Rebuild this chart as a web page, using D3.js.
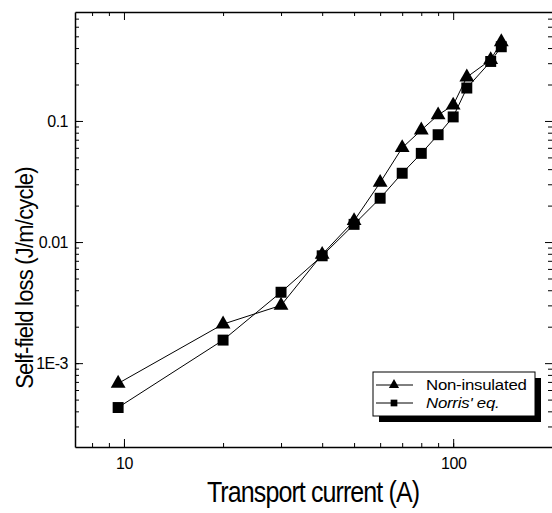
<!DOCTYPE html>
<html>
<head>
<meta charset="utf-8">
<script src="https://cdn.jsdelivr.net/npm/d3@7"></script>
<style>
  body { margin: 0; background: #fff; }
  svg { display: block; font-family: "Liberation Sans", Arial, sans-serif; }
  .axis path, .axis line { stroke: #000; }
  .axis text { font-size: 16px; fill: #000; letter-spacing: -0.5px; }
</style>
</head>
<body>
<div id="chart"></div>
<script>
// ************ data ************
const current = [9.6, 20, 30, 40, 50, 60, 70, 80, 90, 100, 110, 130, 140]
const nonInsulated = [6.8e-4, 2.1e-3, 3.0e-3, 7.9e-3, 0.015, 0.031, 0.060, 0.084, 0.112, 0.135, 0.23, 0.32, 0.45]
const norris = [4.3e-4, 1.55e-3, 3.85e-3, 7.7e-3, 0.014, 0.023, 0.037, 0.054, 0.077, 0.108, 0.187, 0.31, 0.41]

const xTickValues = [10, 100]
const xTickLabels = ["10", "100"]
const yTickValues = [1e-3, 0.01, 0.1]
const yTickLabels = ["1E-3", "0.01", "0.1"]

const seriesNames = ["Non-insulated", "Norris' eq."]

// ************ layout ************
const width = 552
const height = 513
const plot = { left: 75, right: 553, top: 12, bottom: 447 }

const x = d3.scaleLog()
  .domain([7.1, 201])
  .range([plot.left, plot.right])

const y = d3.scaleLog()
  .domain([2.03e-4, 0.794])
  .range([plot.bottom, plot.top])

// minor ticks 1..9 per decade
function minorTicks(scale) {
  const [a, b] = scale.domain()
  const out = []
  for (let k = Math.floor(Math.log10(a)); k <= Math.ceil(Math.log10(b)); k++) {
    for (let m = 1; m <= 9; m++) {
      const v = m * Math.pow(10, k)
      if (v >= a && v <= b) out.push(v)
    }
  }
  return out
}

const svg = d3.select("#chart")
  .append("svg")
  .attr("width", width)
  .attr("height", height)

// frame axes (ticks point inward)
svg.append("g")
  .attr("class", "axis")
  .attr("transform", "translate(0," + plot.bottom + ")")
  .call(d3.axisBottom(x).tickValues(minorTicks(x)).tickSize(-4).tickSizeOuter(0).tickFormat(""))
  .select(".domain").attr("stroke-width", 1.5)

svg.append("g")
  .attr("class", "axis")
  .attr("transform", "translate(0," + plot.bottom + ")")
  .call(d3.axisBottom(x).tickValues(xTickValues).tickSize(-8).tickSizeOuter(0).tickPadding(11)
    .tickFormat((d, i) => xTickLabels[i]))
  .call(g => g.select(".domain").remove())

svg.append("g")
  .attr("class", "axis")
  .attr("transform", "translate(0," + plot.top + ")")
  .call(d3.axisTop(x).tickValues(minorTicks(x)).tickSize(-4).tickSizeOuter(0).tickFormat(""))
  .call(g => g.selectAll(".tick line").filter(d => xTickValues.includes(d)).attr("y2", 8))
  .select(".domain").attr("stroke-width", 1.5)

svg.append("g")
  .attr("class", "axis")
  .attr("transform", "translate(" + plot.left + ",0)")
  .call(d3.axisLeft(y).tickValues(minorTicks(y)).tickSize(-4).tickSizeOuter(0).tickFormat(""))
  .select(".domain").attr("stroke-width", 1.5)

svg.append("g")
  .attr("class", "axis")
  .attr("transform", "translate(" + plot.left + ",0)")
  .call(d3.axisLeft(y).tickValues(yTickValues).tickSize(-8).tickSizeOuter(0).tickPadding(7)
    .tickFormat((d, i) => yTickLabels[i]))
  .call(g => g.select(".domain").remove())

svg.append("g")
  .attr("class", "axis")
  .attr("transform", "translate(" + plot.right + ",0)")
  .call(d3.axisRight(y).tickValues(minorTicks(y)).tickSize(-5).tickSizeOuter(0).tickFormat(""))
  .call(g => g.selectAll(".tick line").filter(d => yTickValues.includes(d)).attr("x2", -8))

// axis titles (the scan has tall, narrow lettering)
svg.append("text")
  .attr("transform", "translate(313,502) scale(1,1.15)")
  .attr("text-anchor", "middle")
  .style("font-size", "25px")
  .style("letter-spacing", "-0.9px")
  .text("Transport current (A)")

svg.append("text")
  .attr("transform", "translate(33,278) scale(1.12,1) rotate(-90)")
  .attr("text-anchor", "middle")
  .style("font-size", "22px")
  .style("letter-spacing", "-0.8px")
  .text("Self-field loss (J/m/cycle)")

// series
const tri = d3.symbol().type(d3.symbolTriangle).size(95)
const sq = d3.symbol().type(d3.symbolSquare).size(120)

const series = [
  { name: seriesNames[0], values: nonInsulated, symbol: tri },
  { name: seriesNames[1], values: norris, symbol: sq }
]

const line = d3.line()
  .x(d => x(d[0]))
  .y(d => y(d[1]))

series.forEach(s => {
  svg.append("path")
    .datum(current.map((c, i) => [c, s.values[i]]))
    .attr("fill", "none")
    .attr("stroke", "#000")
    .attr("stroke-width", 1)
    .attr("d", line)
})

series.forEach(s => {
  svg.selectAll(null)
    .data(current.map((c, i) => [c, s.values[i]]))
    .enter()
    .append("path")
    .attr("d", s.symbol)
    .attr("fill", "#000")
    .attr("transform", d => "translate(" + x(d[0]) + "," + y(d[1]) + ")")
})

// legend with drop shadow
const legend = svg.append("g").attr("transform", "translate(373,372)")
legend.append("rect")
  .attr("x", 6).attr("y", 6).attr("width", 162).attr("height", 44)
  .attr("fill", "#000")
legend.append("rect")
  .attr("width", 162).attr("height", 44)
  .attr("fill", "#fff").attr("stroke", "#000").attr("stroke-width", 1)

const legendSymbols = [d3.symbol().type(d3.symbolTriangle).size(45), d3.symbol().type(d3.symbolSquare).size(45)]

series.forEach((s, i) => {
  const row = legend.append("g").attr("transform", "translate(0," + (13 + i * 18) + ")")
  row.append("line")
    .attr("x1", 3).attr("x2", 40)
    .attr("stroke", "#000")
  row.append("path")
    .attr("d", legendSymbols[i])
    .attr("transform", "translate(21,0)")
  row.append("text")
    .attr("transform", "translate(53,0) scale(1.12,1)")
    .attr("dy", "0.35em")
    .style("font-size", "15px")
    .style("letter-spacing", "-0.2px")
    .style("font-style", i === 1 ? "italic" : "normal")
    .text(s.name)
})
</script>
</body>
</html>
